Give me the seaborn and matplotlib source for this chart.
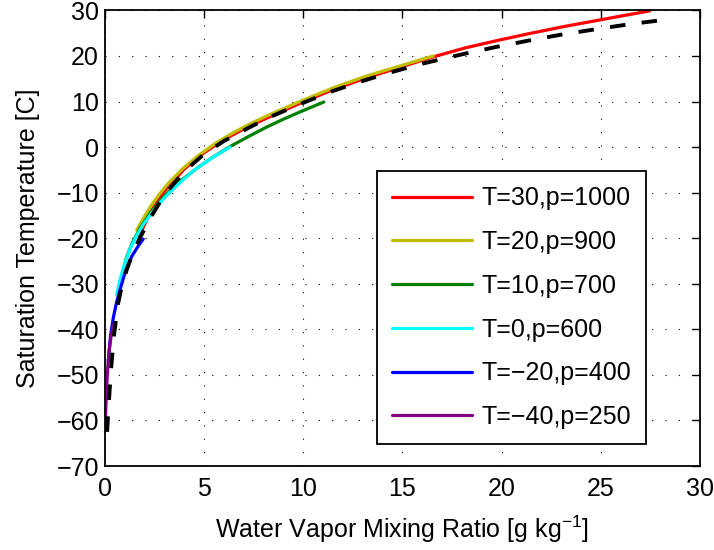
import numpy as np
import pandas as pd
import matplotlib
matplotlib.use("Agg")
import matplotlib.pyplot as plt
import seaborn as sns

# ---- data ----
labels = ["T=30,p=1000", "T=20,p=900", "T=10,p=700", "T=0,p=600", "T=\u221220,p=400", "T=\u221240,p=250"]
colors = ["#ff0000", "#bfbf00", "#008000", "#00ffff", "#0000ff", "#800080"]

red_x = [1.75, 2.3, 3.0, 4.0, 5.0, 6.0, 7.33, 8.5, 10.0, 11.52, 13.2, 14.88, 16.56, 18.2, 19.9,
         21.5, 23.2, 24.95, 26.2, 27.47]
red_y = [-19.5, -14.4, -9.8, -4.9, -1.3, 1.6, 4.7, 7.0, 9.9, 12.6, 15.2, 17.5, 19.8, 21.8, 23.5,
         25.0, 26.5, 27.9, 28.9, 29.9]

yel_x = [1.62, 2.0, 2.29, 2.7, 3.2, 3.97, 4.8, 5.65, 6.5, 7.33, 8.2, 9.0, 9.84, 10.68, 11.52,
         13.2, 14.88, 16.56]
yel_y = [-18.2, -15.3, -13.2, -10.7, -8.0, -4.6, -1.6, 1.0, 3.2, 5.1, 6.9, 8.4, 10.0, 11.5, 13.0,
         15.6, 17.8, 20.0]

grn_x = [0.9, 1.1, 1.4, 1.8, 2.3, 3.0, 3.8, 4.7, 5.5, 6.32, 7.2, 8.17, 9.0, 9.84, 10.5, 11.05]
grn_y = [-27.5, -24.3, -21.0, -17.7, -14.5, -10.8, -7.5, -4.5, -2.1, 0.1, 2.2, 4.4, 6.1, 7.7, 8.9, 9.9]

cyn_x = [0.61, 0.8, 1.0, 1.28, 1.6, 1.95, 2.46, 3.0, 3.6, 4.47, 5.48, 6.32]
cyn_y = [-32.4, -28.8, -25.8, -22.4, -19.6, -17.0, -14.0, -11.2, -8.6, -5.2, -2.2, 0.0]

blu_x = [0.19, 0.3, 0.44, 0.6, 0.78, 1.05, 1.37, 1.7, 1.95]
blu_y = [-47.0, -41.5, -37.5, -34.2, -31.3, -27.3, -24.0, -21.7, -20.2]

pur_x = [0.03, 0.06, 0.1, 0.14, 0.19, 0.24, 0.33, 0.44]
pur_y = [-62.1, -57.8, -53.3, -50.0, -46.8, -44.4, -41.5, -39.0]

ref_x = [0.13, 0.18, 0.23, 0.33, 0.48, 0.69, 0.9, 1.12, 1.4, 1.75, 2.3, 3.0, 4.0, 5.0, 6.0, 7.33,
         8.5, 10.0, 11.5, 13.0, 14.5, 16.1, 18.05, 19.75, 21.4, 22.9, 24.95, 26.5, 27.97]
ref_y = [-62.5, -58.6, -55.2, -48.6, -41.2, -34.2, -29.9, -26.9, -23.6, -20.2, -15.6, -10.6, -5.4,
         -1.6, 1.3, 4.4, 6.9, 9.7, 12.3, 14.5, 16.5, 18.4, 20.4, 22.0, 23.4, 24.6, 26.0, 27.0, 27.8]

xticks = [0, 5, 10, 15, 20, 25, 30]
yticks = [-70, -60, -50, -40, -30, -20, -10, 0, 10, 20, 30]

series = [(red_x, red_y), (yel_x, yel_y), (grn_x, grn_y), (cyn_x, cyn_y), (blu_x, blu_y), (pur_x, pur_y)]

# ---- plotting ----
sns.set_theme(style="white")
plt.rcParams["font.family"] = ["Liberation Sans", "DejaVu Sans"]
plt.rcParams["axes.unicode_minus"] = True
plt.rcParams["text.color"] = "black"
plt.rcParams["axes.labelcolor"] = "black"

fig = plt.figure(figsize=(7.14, 5.5), dpi=100)
ax = fig.add_axes([0.1464, 0.1527, 0.834, 0.8284])

for (xs, ys), lab, col in zip(series, labels, colors):
    df = pd.DataFrame({"x": xs, "y": ys})
    sns.lineplot(data=df, x="x", y="y", ax=ax, sort=False, estimator=None,
                 color=col, linewidth=2.3, label=lab)

dref = pd.DataFrame({"x": ref_x, "y": ref_y})
sns.lineplot(data=dref, x="x", y="y", ax=ax, sort=False, estimator=None,
             color="black", linewidth=2.8, linestyle=(0, (4.0, 4.2)), legend=False)

ax.set_xlim(0, 30)
ax.set_ylim(-70, 30)
ax.set_xticks(xticks)
ax.set_yticks(yticks)
ax.set_xlabel("Water Vapor Mixing Ratio [g kg$^{\\mathregular{-1}}$]", fontsize=18,
              labelpad=9, color="black")
ax.set_ylabel("Saturation Temperature [C]", fontsize=18, labelpad=12, color="black")
ax.tick_params(axis="both", which="both", direction="in", length=6, width=1,
               labelsize=18, top=True, right=True, pad=4, colors="black")
ax.tick_params(axis="x", pad=8)
for s in ax.spines.values():
    s.set_visible(True)
    s.set_color("black")
    s.set_linewidth(1.3)
ax.grid(True, color="black", linestyle=(0, (1, 11)), linewidth=0.8)
ax.set_axisbelow(True)

h, l = ax.get_legend_handles_labels()
leg = ax.legend(h[:6], l[:6], loc="lower left", bbox_to_anchor=(0.458, 0.048),
                fontsize=18, frameon=True, fancybox=False, edgecolor="black",
                handlelength=3.2, handletextpad=0.35, labelspacing=0.79,
                borderpad=0.6, borderaxespad=0)
leg.get_frame().set_linewidth(1.3)
leg.get_frame().set_alpha(1)
for t in leg.get_texts():
    t.set_color("black")

fig.savefig("out.png", dpi=100)
